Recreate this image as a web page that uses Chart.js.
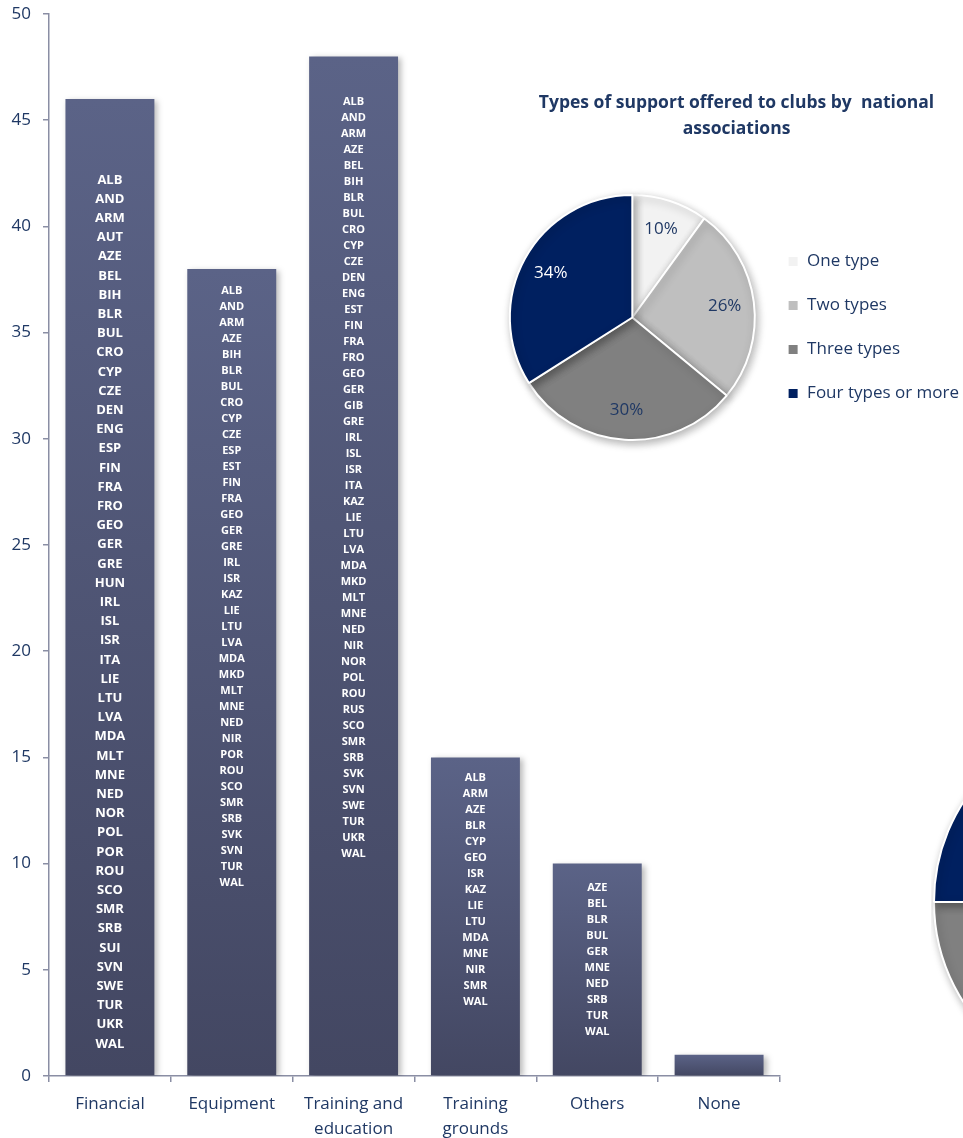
<!doctype html>
<html>

<head>
  <meta charset="utf-8">
  <script src="https://cdn.jsdelivr.net/npm/chart.js@4.4.1/dist/chart.umd.min.js"></script>
  <style>
    html, body { margin: 0; padding: 0; background: #fff; overflow: hidden; }
    #wrap { position: relative; width: 963px; height: 1138px; overflow: hidden; }
    #barChart { position: absolute; left: 0; top: 0; }
    #pieChart { position: absolute; left: 380px; top: 80px; }
    #edgePie { position: absolute; left: 931px; top: 714px; }
  </style>
</head>

<body>
  <div id="wrap">
    <canvas id="barChart" width="963" height="1138"></canvas>
    <canvas id="pieChart" width="720" height="380"></canvas>
    <canvas id="edgePie" width="376" height="376"></canvas>
  </div>
  <script>
    // --- data ---
    const categories = [['Financial'], ['Equipment'], ['Training and', 'education'], ['Training', 'grounds'], ['Others'], ['None']];
    const counts = [46, 38, 48, 15, 10, 1];

    const financialCountries = ['ALB', 'AND', 'ARM', 'AUT', 'AZE', 'BEL', 'BIH', 'BLR', 'BUL', 'CRO', 'CYP', 'CZE', 'DEN', 'ENG', 'ESP', 'FIN',
      'FRA', 'FRO', 'GEO', 'GER', 'GRE', 'HUN', 'IRL', 'ISL', 'ISR', 'ITA', 'LIE', 'LTU', 'LVA', 'MDA', 'MLT', 'MNE', 'NED', 'NOR', 'POL',
      'POR', 'ROU', 'SCO', 'SMR', 'SRB', 'SUI', 'SVN', 'SWE', 'TUR', 'UKR', 'WAL'];
    const equipmentCountries = ['ALB', 'AND', 'ARM', 'AZE', 'BIH', 'BLR', 'BUL', 'CRO', 'CYP', 'CZE', 'ESP', 'EST', 'FIN', 'FRA', 'GEO', 'GER',
      'GRE', 'IRL', 'ISR', 'KAZ', 'LIE', 'LTU', 'LVA', 'MDA', 'MKD', 'MLT', 'MNE', 'NED', 'NIR', 'POR', 'ROU', 'SCO', 'SMR', 'SRB', 'SVK',
      'SVN', 'TUR', 'WAL'];
    const trainingEducationCountries = ['ALB', 'AND', 'ARM', 'AZE', 'BEL', 'BIH', 'BLR', 'BUL', 'CRO', 'CYP', 'CZE', 'DEN', 'ENG', 'EST', 'FIN',
      'FRA', 'FRO', 'GEO', 'GER', 'GIB', 'GRE', 'IRL', 'ISL', 'ISR', 'ITA', 'KAZ', 'LIE', 'LTU', 'LVA', 'MDA', 'MKD', 'MLT', 'MNE', 'NED',
      'NIR', 'NOR', 'POL', 'ROU', 'RUS', 'SCO', 'SMR', 'SRB', 'SVK', 'SVN', 'SWE', 'TUR', 'UKR', 'WAL'];
    const trainingGroundsCountries = ['ALB', 'ARM', 'AZE', 'BLR', 'CYP', 'GEO', 'ISR', 'KAZ', 'LIE', 'LTU', 'MDA', 'MNE', 'NIR', 'SMR', 'WAL'];
    const otherCountries = ['AZE', 'BEL', 'BLR', 'BUL', 'GER', 'MNE', 'NED', 'SRB', 'TUR', 'WAL'];
    const noneCountries = [];
    const countryLists = [financialCountries, equipmentCountries, trainingEducationCountries, trainingGroundsCountries, otherCountries, noneCountries];

    const pieTitle = ['Types of support offered to clubs by  national', 'associations'];
    const pieLabels = ['One type', 'Two types', 'Three types', 'Four types or more'];
    const pieShares = [10, 26, 30, 34];

    // pie cut off at the right edge of the page (only part of it is visible)
    const edgePieValues = [20, 25, 30, 25];

    const NAVY = '#1f3864';
    const AXIS = '#8a8ea4';
    const pieColors = ['#f2f2f2', '#bfbfbf', '#808080', '#002060'];

    function barGradient(c) {
      const chart = c.chart;
      const y = chart.scales.y;
      if (!chart.chartArea || !y || !c.parsed) return '#4f5676';
      const top = y.getPixelForValue(c.parsed.y);
      const bottom = y.getPixelForValue(0);
      const g = chart.ctx.createLinearGradient(0, top, 0, bottom);
      g.addColorStop(0, '#5b6387');
      g.addColorStop(1, '#434762');
      return g;
    }

    // shadow under bars + country codes written inside them
    const barLabels = {
      id: 'barLabels',
      beforeDatasetsDraw(chart) {
        const ctx = chart.ctx;
        ctx.save();
        ctx.shadowColor = 'rgba(0,0,0,0.28)';
        ctx.shadowBlur = 6;
        ctx.shadowOffsetX = 3;
        ctx.shadowOffsetY = 2;
      },
      afterDatasetsDraw(chart, args, opts) {
        const ctx = chart.ctx;
        ctx.restore();
        const meta = chart.getDatasetMeta(0);
        ctx.save();
        ctx.fillStyle = '#ffffff';
        ctx.textAlign = 'center';
        ctx.textBaseline = 'middle';
        meta.data.forEach((bar, i) => {
          const list = countryLists[i];
          ctx.font = 'bold ' + opts.fontSizes[i] + 'px "Open Sans"';
          list.forEach((code, k) => {
            ctx.fillText(code, bar.x, bar.y + opts.topGaps[i] + k * opts.lineGaps[i]);
          });
        });
        ctx.restore();
      }
    };

    new Chart(document.getElementById('barChart'), {
      type: 'bar',
      data: {
        labels: categories,
        datasets: [{
          data: counts,
          backgroundColor: barGradient,
          borderWidth: 0,
          categoryPercentage: 1,
          barPercentage: 0.73
        }]
      },
      options: {
        responsive: false,
        animation: false,
        layout: { padding: { top: 14, right: 183, left: 0, bottom: 0 } },
        plugins: {
          legend: { display: false },
          tooltip: { enabled: false },
          barLabels: {
            fontSizes: [13, 11, 11, 11, 11, 11],
            lineGaps: [19.2, 16, 16, 16, 16, 16],
            topGaps: [81, 22, 45, 20, 24, 0]
          }
        },
        scales: {
          y: {
            min: 0,
            max: 50,
            ticks: { stepSize: 5, color: NAVY, font: { family: '"Open Sans"', size: 17 }, padding: 12 },
            grid: { drawOnChartArea: false, tickLength: 6, color: AXIS, lineWidth: 1.5 },
            border: { color: AXIS, width: 1.5 },
            afterFit(scale) {
              scale.width = 49;
              scale.paddingTop = 0;
              scale.paddingBottom = 0;
            }
          },
          x: {
            ticks: { color: NAVY, font: { family: '"Open Sans"', size: 17, lineHeight: 1.45 }, padding: 10, maxRotation: 0, autoSkip: false },
            grid: { drawOnChartArea: false, tickLength: 6, color: AXIS, lineWidth: 1.5, offset: true },
            border: { color: AXIS, width: 1.5 },
            afterFit(scale) { scale.height = 62; }
          }
        }
      },
      plugins: [barLabels]
    });

    // percentage labels + drop shadow for the pies
    const pieShadow = {
      id: 'pieShadow',
      beforeDatasetsDraw(chart) {
        const ctx = chart.ctx;
        ctx.save();
        ctx.shadowColor = 'rgba(0,0,0,0.3)';
        ctx.shadowBlur = 8;
        ctx.shadowOffsetX = 2;
        ctx.shadowOffsetY = 3;
      },
      afterDatasetsDraw(chart) {
        chart.ctx.restore();
      }
    };

    const pieValueLabels = {
      id: 'pieValueLabels',
      afterDatasetsDraw(chart) {
        const ctx = chart.ctx;
        const meta = chart.getDatasetMeta(0);
        ctx.save();
        ctx.font = '17px "Open Sans"';
        ctx.textAlign = 'center';
        ctx.textBaseline = 'middle';
        meta.data.forEach((arc, i) => {
          const mid = (arc.startAngle + arc.endAngle) / 2;
          const r = arc.outerRadius * 0.76;
          ctx.fillStyle = i === 3 ? '#ffffff' : NAVY;
          ctx.fillText(pieShares[i] + '%', arc.x + Math.cos(mid) * r, arc.y + Math.sin(mid) * r);
        });
        ctx.restore();
      }
    };

    new Chart(document.getElementById('pieChart'), {
      type: 'pie',
      data: {
        labels: pieLabels,
        datasets: [{
          data: pieShares,
          backgroundColor: pieColors,
          borderColor: '#ffffff',
          borderWidth: 2
        }]
      },
      options: {
        responsive: false,
        animation: false,
        layout: { padding: { left: 124, right: 131, top: 0, bottom: 19 } },
        plugins: {
          tooltip: { enabled: false },
          title: {
            display: true,
            text: pieTitle,
            color: NAVY,
            font: { family: '"Open Sans"', size: 17.5, weight: 'bold', lineHeight: 1.43 },
            padding: { top: 11, bottom: 53 }
          },
          legend: {
            position: 'right',
            align: 'center',
            title: { display: true, text: ' ', font: { size: 1 }, padding: { top: 0, bottom: 133 } },
            labels: {
              boxWidth: 11,
              boxHeight: 11,
              padding: 27,
              color: NAVY,
              font: { family: '"Open Sans"', size: 17 }
            }
          }
        }
      },
      plugins: [pieShadow, pieValueLabels]
    });

    new Chart(document.getElementById('edgePie'), {
      type: 'pie',
      data: {
        labels: edgePieValues.map((v, i) => 'part ' + (i + 1)),
        datasets: [{
          data: edgePieValues,
          backgroundColor: pieColors,
          borderColor: '#ffffff',
          borderWidth: 2
        }]
      },
      options: {
        responsive: false,
        animation: false,
        layout: { padding: 2 },
        plugins: { legend: { display: false }, tooltip: { enabled: false } }
      },
      plugins: [pieShadow]
    });
  </script>
</body>

</html>
